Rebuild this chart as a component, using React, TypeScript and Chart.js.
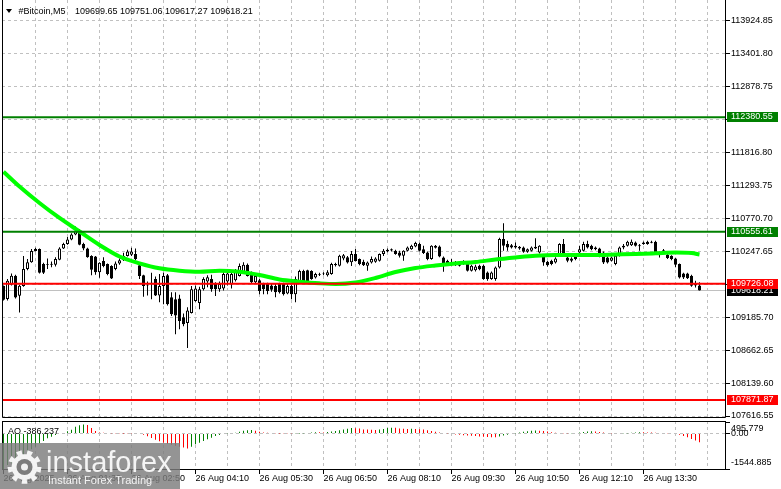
import React, { useEffect, useRef } from 'react';
import { Chart, registerables } from 'chart.js';

Chart.register(...registerables);

// ---------------- data ----------------
const symbolTitle = '#Bitcoin,M5';
const lastQuote = ['109699.65', '109751.06', '109617.27', '109618.21'];

const opens = [
  109693, 109481, 109710, 109853, 109534, 109690, 109960, 110070, 110250, 110280,
  110040, 110040, 110030, 110030, 110110, 110290, 110360, 110430, 110510, 110560,
  110360, 110290, 110170, 110160, 109910, 110090, 110040, 110010, 109960, 110050,
  110100, 110170, 110190, 110200, 110020, 109860, 109710, 109720, 109800, 109540,
  109690, 109860, 109510, 109480, 109490, 109190, 109100, 109260, 109450, 109420,
  109640, 109760, 109800, 109720, 109640, 109650, 109760, 109720, 109780, 109850,
  109910, 110030, 109900, 109750, 109780, 109720, 109720, 109700, 109690, 109720,
  109720, 109570, 109690, 109560, 109770, 109930, 109940, 109930, 109826, 109870,
  109880, 109860, 109880, 110020, 110012, 110130, 110150, 110070, 110200, 110119,
  110076, 110012, 110066, 110076, 110092, 110199, 110268, 110258, 110252, 110225,
  110172, 110252, 110278, 110320, 110358, 110278, 110225, 110119, 110300, 110320,
  110145, 110092, 110070, 110066, 110066, 110060, 110066, 109933, 109940, 110012,
  110012, 109906, 109800, 109800, 109986, 110438, 110358, 110342, 110331, 110315,
  110305, 110236, 110252, 110315, 110225, 110172, 110076, 110092, 110066, 110172,
  110358, 110145, 110129, 110183, 110225, 110252, 110358, 110331, 110305, 110289,
  110225, 110145, 110092, 110039, 110172, 110305, 110331, 110342, 110385, 110342,
  110358, 110395, 110395, 110395, 110225, 110262, 110185, 110172, 110129, 110039,
  109890, 109890, 109853, 109720, 109699.65,
];
const highs = [
  109700, 109800, 109890, 109870, 109710, 110170, 110120, 110280, 110300, 110290,
  110060, 110130, 110080, 110150, 110310, 110380, 110470, 110530, 110640, 110600,
  110380, 110300, 110180, 110170, 110070, 110150, 110050, 110020, 110080, 110130,
  110220, 110270, 110300, 110290, 110030, 109870, 109760, 109900, 109840, 109880,
  109900, 109880, 109590, 109590, 109550, 109250, 109350, 109690, 109700, 109680,
  109830, 109860, 109870, 109750, 109760, 109910, 109920, 109910, 109960, 110050,
  110070, 110050, 109920, 109870, 109800, 109740, 109740, 109720, 109720, 109740,
  109740, 109720, 109710, 109840, 109950, 109950, 109950, 109940, 109900, 109900,
  109910, 109940, 110060, 110060, 110190, 110200, 110170, 110250, 110280, 110130,
  110110, 110080, 110160, 110150, 110210, 110280, 110290, 110290, 110270, 110252,
  110260, 110320, 110350, 110395, 110380, 110331, 110240, 110340, 110345, 110335,
  110160, 110110, 110119, 110090, 110090, 110100, 110090, 110030, 110030, 110030,
  110030, 109920, 109920, 110000, 110460, 110690, 110411, 110360, 110385, 110330,
  110320, 110290, 110320, 110450, 110340, 110190, 110090, 110110, 110150, 110370,
  110438, 110160, 110150, 110200, 110331, 110395, 110411, 110350, 110320, 110300,
  110240, 110160, 110160, 110190, 110320, 110358, 110410, 110430, 110400, 110360,
  110400, 110410, 110410, 110410, 110240, 110280, 110200, 110180, 110140, 110050,
  109900, 109900, 109870, 109773, 109751.06,
];
const lows = [
  109460, 109460, 109700, 109490, 109268, 109680, 109940, 110060, 110240, 109890,
  109880, 109960, 109990, 110000, 110100, 110280, 110350, 110420, 110500, 110340,
  110260, 110140, 109860, 109870, 109820, 109990, 109860, 109800, 109940, 110030,
  110090, 110160, 110170, 110100, 109800, 109520, 109540, 109480, 109530, 109430,
  109400, 109380, 109210, 108920, 109000, 109050, 108700, 109250, 109440, 109320,
  109620, 109670, 109600, 109530, 109600, 109620, 109700, 109650, 109760, 109840,
  109900, 109840, 109730, 109720, 109560, 109560, 109560, 109600, 109510, 109570,
  109540, 109560, 109480, 109430, 109760, 109760, 109750, 109790, 109810, 109850,
  109860, 109840, 109870, 110000, 110000, 110100, 110050, 110010, 110080, 110020,
  110010, 109933, 110050, 110060, 110080, 110170, 110230, 110240, 110190, 110145,
  110092, 110240, 110270, 110310, 110240, 110200, 110100, 110110, 110290, 110150,
  109917, 110020, 110012, 110010, 110000, 110030, 109920, 109920, 109920, 109940,
  109790, 109773, 109790, 109773, 109970, 110252, 110252, 110290, 110290, 110270,
  110220, 110220, 110240, 110280, 110210, 110012, 110000, 110020, 110050, 110160,
  110180, 110070, 110070, 110100, 110210, 110240, 110290, 110260, 110260, 110150,
  110039, 110050, 110080, 110023, 110160, 110278, 110320, 110330, 110320, 110252,
  110350, 110350, 110370, 110210, 110145, 110210, 110120, 110100, 109990, 109810,
  109800, 109800, 109680, 109667, 109617.27,
];
const closes = [
  109470, 109773, 109853, 109507, 109693, 109960, 110070, 110250, 110280, 109900,
  109900, 110030, 110046, 110120, 110290, 110360, 110430, 110510, 110570, 110350,
  110290, 110150, 109950, 109910, 110060, 110010, 109880, 109810, 110050, 110100,
  110170, 110240, 110240, 110120, 109850, 109690, 109700, 109740, 109540, 109690,
  109850, 109400, 109240, 109220, 109130, 109080, 109300, 109640, 109650, 109640,
  109800, 109830, 109640, 109640, 109720, 109880, 109890, 109880, 109930, 110010,
  110030, 109850, 109750, 109850, 109610, 109640, 109610, 109630, 109590, 109590,
  109560, 109690, 109560, 109800, 109930, 109770, 109770, 109800, 109880, 109880,
  109890, 109910, 110040, 110040, 110172, 110180, 110066, 110200, 110090, 110039,
  110023, 110066, 110119, 110129, 110199, 110252, 110247, 110278, 110199, 110172,
  110252, 110305, 110331, 110374, 110252, 110215, 110119, 110331, 110331, 110161,
  110039, 110039, 110060, 110030, 110012, 110076, 109933, 110012, 110000, 109959,
  109800, 109800, 109906, 109986, 110438, 110331, 110305, 110305, 110305, 110289,
  110236, 110278, 110305, 110289, 110331, 110066, 110023, 110039, 110129, 110358,
  110199, 110092, 110092, 110119, 110278, 110358, 110305, 110278, 110278, 110161,
  110066, 110066, 110145, 110172, 110305, 110331, 110395, 110395, 110331, 110325,
  110385, 110358, 110380, 110225, 110210, 110225, 110135, 110119, 110030, 109826,
  109826, 109815, 109693, 109700, 109618.21,
];

// moving average read at sample bars
const maBars = [0, 4, 9, 14, 19, 24, 29, 34, 39, 44, 49, 54, 59, 64, 69, 74, 79, 83, 88, 93, 98,
  103, 108, 113, 118, 123, 128, 133, 138, 143, 148, 153, 158, 163, 168, 172, 174];
const maValues = [111513, 111277, 111014, 110775, 110559, 110344, 110161, 110052, 109972, 109934,
  109918, 109934, 109918, 109866, 109794, 109759, 109733, 109722, 109746, 109818, 109913,
  109977, 110017, 110049, 110073, 110113, 110145, 110173, 110185, 110185, 110185, 110193,
  110201, 110212, 110224, 110216, 110193];

const aoValues = [
  -1544.885, -1372, -1300, -1155, -1081, -938, -794, -690, -577, -430,
  -330, -213, -143, -70, -30, 20, 90, 160, 290, 360,
  390, 370, 240, 100, 40, 25, 15, 10, 5, 2,
  -5, -10, -15, -20, -25, -55, -127, -200, -272, -344,
  -400, -445, -489, -530, -575, -610, -650, -577, -475, -403,
  -330, -258, -185, -113, -69, -26, 5, 20, 30, 74,
  117, 140, 150, 117, 74, 45, 30, 15, 5, -5,
  -10, -12, -15, -12, -5, 5, 20, 40, 55, 50,
  45, 60, 85, 110, 140, 170, 200, 230, 220, 210,
  175, 165, 155, 150, 165, 190, 230, 250, 245, 215,
  200, 190, 200, 195, 185, 170, 140, 100, 70, 40,
  20, 5, -20, -50, -60, -75, -85, -100, -115, -130,
  -140, -155, -165, -170, -130, -90, -60, -30, 10, 40,
  70, 95, 115, 125, 120, 100, 80, 50, 30, 20,
  10, 5, 10, 20, 35, 60, 80, 95, 80, 60,
  40, 15, -10, -25, -20, -10, 10, 30, 45, 55,
  50, 45, 35, 30, 20, 15, 8, 0, -20, -60,
  -110, -170, -240, -310, -386.237,
];
const aoLabel = 'AO -386.237';

const timeLabels = ['26 Aug 2025', '26 Aug 01:30', '26 Aug 02:50', '26 Aug 04:10', '26 Aug 05:30',
  '26 Aug 06:50', '26 Aug 08:10', '26 Aug 09:30', '26 Aug 10:50', '26 Aug 12:10', '26 Aug 13:30'];
const timeLabelBars = [0, 16, 32, 48, 64, 80, 96, 112, 128, 144, 160];

const priceTicks = [107616.55, 108139.60, 108662.65, 109185.70, 109716.68, 110247.65, 110770.70,
  111293.75, 111816.80, 112347.78, 112878.75, 113401.80, 113924.85];
const aoTicks = [-1544.885, 0, 495.779];
const aoTickLabels = ['-1544.885', '0.00', '495.779'];

const levelValues = [112380.55, 110555.61, 109726.08, 107871.87];
const levelColors = ['#008000', '#008000', '#ff0000', '#ff0000'];
const bidPrice = 109618.21;
const boxValues = [112380.55, 110555.61, 109618.21, 109726.08, 107871.87];
const boxColors = ['#008000', '#008000', '#000000', '#ff0000', '#ff0000'];

// ---------------- layout constants ----------------
const FONT = "'Liberation Sans', Arial, sans-serif";
const GRID = '#c0c0c0';
const CLEAR = 'rgba(0,0,0,0)';
const X_MIN = -0.375;
const X_MAX = 180.625;
const Y_MIN = 107600.6;
const Y_MAX = 114251.8;
const AO_MIN = -1588.3;
const AO_MAX = 539.2;
const GRID_STEP = 8;
const gridBars = Array.from({ length: 23 }, (_, k) => k * GRID_STEP);

const zeroPad = (s: any) => {
  s.paddingLeft = 0; s.paddingRight = 0; s.paddingTop = 0; s.paddingBottom = 0;
};

function drawGear(ctx: CanvasRenderingContext2D, cx: number, cy: number, ro: number, ri: number, teeth: number) {
  ctx.beginPath();
  const n = teeth * 2;
  for (let t = 0; t < n; t++) {
    const a0 = (t / n) * Math.PI * 2;
    const a1 = ((t + 1) / n) * Math.PI * 2;
    const r = t % 2 === 0 ? ro : ri;
    ctx.lineTo(cx + r * Math.cos(a0), cy + r * Math.sin(a0));
    ctx.lineTo(cx + r * Math.cos(a1), cy + r * Math.sin(a1));
  }
  ctx.closePath();
  ctx.fill();
}

const mainOverlay = {
  id: 'mainOverlay',
  afterDraw(chart: any) {
    const { ctx, chartArea: ca, scales } = chart;
    const y = scales.y;
    ctx.save();
    ctx.strokeStyle = '#000';
    ctx.lineWidth = 1;
    ctx.beginPath();
    ctx.moveTo(ca.left + 0.5, 0);
    ctx.lineTo(ca.left + 0.5, ca.bottom + 0.5);
    ctx.lineTo(ca.right - 0.5, ca.bottom + 0.5);
    ctx.lineTo(ca.right - 0.5, 0);
    ctx.stroke();

    // title
    ctx.fillStyle = '#000';
    ctx.beginPath();
    ctx.moveTo(6, 9); ctx.lineTo(12, 9); ctx.lineTo(9, 13); ctx.closePath();
    ctx.fill();
    ctx.font = `9px ${FONT}`;
    ctx.textBaseline = 'alphabetic';
    ctx.textAlign = 'left';
    ctx.fillText(symbolTitle, 18.5, 13.5);
    ctx.fillText(lastQuote.join(' '), 75, 13.5);

    // price boxes on the axis
    ctx.textBaseline = 'middle';
    boxValues.forEach((v, k) => {
      const py = y.getPixelForValue(v);
      const top = Math.round(py) - 5;
      ctx.fillStyle = boxColors[k];
      ctx.fillRect(727, top, 51, 10);
      ctx.fillStyle = '#fff';
      ctx.fillText(v.toFixed(2), 731, top + 5);
    });
    ctx.restore();
  },
};

const aoOverlay = {
  id: 'aoOverlay',
  afterDraw(chart: any) {
    const { ctx, chartArea: ca } = chart;
    ctx.save();
    ctx.strokeStyle = '#000';
    ctx.lineWidth = 1;
    ctx.strokeRect(ca.left + 0.5, ca.top + 0.5, ca.right - ca.left - 1, ca.bottom - ca.top - 1);

    ctx.fillStyle = '#000';
    ctx.font = `9px ${FONT}`;
    ctx.textBaseline = 'alphabetic';
    ctx.fillText(aoLabel, 8, 14);

    // watermark
    ctx.fillStyle = 'rgba(125,125,125,0.82)';
    ctx.fillRect(0, 23, 180, 46);
    ctx.fillStyle = 'rgba(255,255,255,0.9)';
    drawGear(ctx, 24.5, 47, 17, 13, 9);
    ctx.fillStyle = 'rgba(125,125,125,1)';
    ctx.beginPath(); ctx.arc(24.5, 47, 8, 0, Math.PI * 2); ctx.fill();
    ctx.fillStyle = 'rgba(255,255,255,0.9)';
    ctx.beginPath(); ctx.arc(24.5, 47, 3.5, 0, Math.PI * 2); ctx.fill();
    ctx.font = `29px ${FONT}`;
    ctx.fillText('instaforex', 46, 52);
    ctx.font = `11px ${FONT}`;
    ctx.fillText('Instant Forex Trading', 48, 64);
    ctx.restore();
  },
};

export default function App() {
  const mainRef = useRef<HTMLCanvasElement>(null);
  const aoRef = useRef<HTMLCanvasElement>(null);

  useEffect(() => {
    Chart.defaults.font.family = FONT;
    const idx = opens.map((_, i) => i);
    const wickData = idx.map((i) => ({ x: i, y: [lows[i], highs[i]] }));
    const bodyData = idx.map((i) => ({ x: i, y: [opens[i], closes[i]] }));
    const maData = maBars.map((b, k) => ({ x: b, y: maValues[k] }));

    const levelSets = levelValues.map((v, k) => ({
      type: 'line',
      data: [{ x: X_MIN, y: v }, { x: X_MAX, y: v }],
      borderColor: levelColors[k],
      borderWidth: 2,
      pointRadius: 0,
      order: 0,
    }));

    const main = new Chart(mainRef.current as HTMLCanvasElement, {
      type: 'line',
      data: {
        datasets: [
          ...levelSets,
          {
            type: 'line',
            data: maData,
            borderColor: '#00ff00',
            borderWidth: 4,
            pointRadius: 0,
            cubicInterpolationMode: 'monotone',
            order: 1,
          },
          {
            type: 'bar',
            data: bodyData,
            barThickness: 3,
            grouped: false,
            inflateAmount: 0,
            borderSkipped: false,
            borderWidth: 1,
            borderColor: '#000',
            backgroundColor: (c: any) => (closes[c.dataIndex] >= opens[c.dataIndex] ? '#ffffff' : '#000000'),
            order: 2,
          },
          {
            type: 'bar',
            data: wickData,
            barThickness: 1,
            grouped: false,
            inflateAmount: 0,
            borderWidth: 0,
            backgroundColor: '#000',
            order: 3,
          },
          {
            type: 'line',
            data: [{ x: X_MIN, y: bidPrice }, { x: X_MAX, y: bidPrice }],
            borderColor: '#c0c0c0',
            borderWidth: 1,
            pointRadius: 0,
            order: 4,
          },
        ] as any,
      },
      options: {
        animation: false,
        responsive: false,
        maintainAspectRatio: false,
        events: [],
        layout: { padding: { left: 2, right: 0, top: 0, bottom: 3 } },
        plugins: { legend: { display: false }, tooltip: { enabled: false } },
        scales: {
          x: {
            type: 'linear',
            min: X_MIN,
            max: X_MAX,
            offset: false,
            afterBuildTicks: (s: any) => { s.ticks = gridBars.map((v) => ({ value: v })); },
            afterFit: (s: any) => { s.height = 0; zeroPad(s); },
            ticks: { display: false, autoSkip: false, maxRotation: 0, minRotation: 0 },
            grid: {
              offset: false,
              drawTicks: false,
              color: (c: any) => (c.tick && c.tick.value === 0 ? CLEAR : GRID),
            },
            border: { display: false, dash: [3, 3] },
          },
          y: {
            type: 'linear',
            position: 'right',
            min: Y_MIN,
            max: Y_MAX,
            afterBuildTicks: (s: any) => { s.ticks = priceTicks.map((v) => ({ value: v })); },
            afterFit: (s: any) => { s.width = 55; zeroPad(s); },
            ticks: {
              autoSkip: false,
              padding: 1,
              color: '#000',
              font: { family: FONT, size: 9 },
              callback: (v: any) => Number(v).toFixed(2),
            },
            grid: { color: GRID, tickColor: '#000', tickLength: 4 },
            border: { display: false, dash: [3, 3] },
          },
        },
      } as any,
      plugins: [mainOverlay],
    });

    const aoData = idx.map((i) => ({ x: i, y: [0, aoValues[i]] }));
    const ao = new Chart(aoRef.current as HTMLCanvasElement, {
      type: 'line',
      data: {
        datasets: [
          {
            type: 'bar',
            data: aoData,
            barThickness: 1,
            grouped: false,
            inflateAmount: 0,
            borderWidth: 0,
            backgroundColor: (c: any) => {
              const i = c.dataIndex;
              if (i === 0) return '#008000';
              return aoValues[i] > aoValues[i - 1] ? '#008000' : '#ff0000';
            },
          },
        ] as any,
      },
      options: {
        animation: false,
        responsive: false,
        maintainAspectRatio: false,
        events: [],
        layout: { padding: { left: 2, right: 0, top: 1, bottom: 0 } },
        plugins: { legend: { display: false }, tooltip: { enabled: false } },
        scales: {
          x: {
            type: 'linear',
            min: X_MIN,
            max: X_MAX,
            offset: false,
            position: 'bottom',
            afterBuildTicks: (s: any) => { s.ticks = gridBars.map((v) => ({ value: v })); },
            afterFit: (s: any) => { s.height = 19; zeroPad(s); },
            ticks: {
              autoSkip: false,
              maxRotation: 0,
              minRotation: 0,
              align: 'start',
              padding: -1,
              color: '#000',
              font: { family: FONT, size: 9 },
              callback: (v: any) => {
                const k = timeLabelBars.indexOf(Number(v));
                return k >= 0 ? timeLabels[k] : '';
              },
            },
            grid: {
              offset: false,
              tickLength: 4,
              color: (c: any) => (c.tick && c.tick.value === 0 ? CLEAR : GRID),
              tickColor: (c: any) => (c.tick && timeLabelBars.includes(c.tick.value) ? '#000' : CLEAR),
            },
            border: { display: false, dash: [3, 3] },
          },
          y: {
            type: 'linear',
            position: 'right',
            min: AO_MIN,
            max: AO_MAX,
            afterBuildTicks: (s: any) => { s.ticks = aoTicks.map((v) => ({ value: v })); },
            afterFit: (s: any) => { s.width = 55; zeroPad(s); },
            ticks: {
              autoSkip: false,
              padding: 1,
              color: '#000',
              font: { family: FONT, size: 9, lineHeight: 1.4 },
              callback: (_v: any, i: number) => {
                if (i === 0) return [aoTickLabels[0], ''];
                if (i === aoTicks.length - 1) return ['', aoTickLabels[i]];
                return aoTickLabels[i];
              },
            },
            grid: {
              color: (c: any) => (c.tick && c.tick.value === 0 ? GRID : CLEAR),
              tickColor: '#000',
              tickLength: 4,
            },
            border: { display: false, dash: [3, 3] },
          },
        },
      } as any,
      plugins: [aoOverlay],
    });

    return () => {
      main.destroy();
      ao.destroy();
    };
  }, []);

  return (
    <div style={{ position: 'fixed', left: 0, top: 0, width: 781, height: 489, background: '#fff', overflow: 'hidden' }}>
      <canvas ref={mainRef} width={781} height={420} style={{ position: 'absolute', left: 0, top: 0, display: 'block' }} />
      <canvas ref={aoRef} width={781} height={69} style={{ position: 'absolute', left: 0, top: 420, display: 'block' }} />
    </div>
  );
}
